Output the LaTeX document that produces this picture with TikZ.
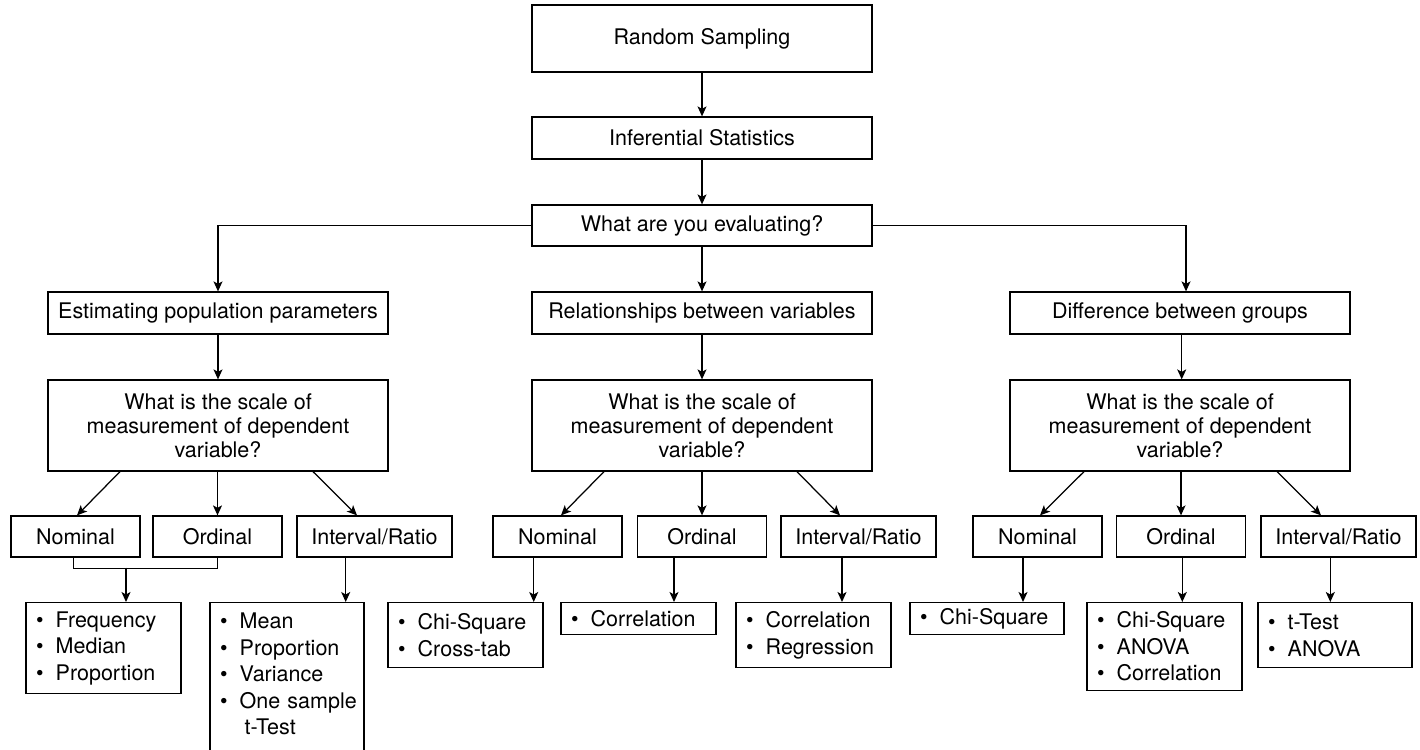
\documentclass[tikz,border=0pt]{standalone}
\usepackage{fontspec}
\setmainfont{TeX Gyre Heros}
\usetikzlibrary{arrows.meta,calc}
\newcommand\itm[1]{\mbox{\makebox[19.7pt][l]{\textbullet}#1}}
\begin{document}
\begin{tikzpicture}[x=1pt,y=-1pt,
  box/.style={draw, line width=1.25pt, inner sep=0pt, align=center, font=\fontsize{21.5}{24}\selectfont},
  lst/.style={draw, line width=1.25pt, inner xsep=10pt, inner ysep=0pt, align=left, anchor=north, font=\fontsize{21.5}{26.5}\selectfont},
  arr/.style={line width=1.25pt, -{Stealth[length=10pt,width=9pt,inset=2.5pt]}},
  ln/.style={line width=1.25pt}]
\fill[white] (0,0) rectangle (1420,749);
\useasboundingbox (0,0) rectangle (1420,749);
% top
\node[box,minimum width=340,minimum height=67] (rs) at (702,38.5) {Random Sampling};
\node[box,minimum width=340,minimum height=42] (is) at (702,138) {Inferential Statistics};
\node[box,minimum width=340,minimum height=41] (ev) at (702,225.5) {What are you evaluating?};
% level 2
\node[box,minimum width=340,minimum height=42] (ep) at (218,313) {Estimating population parameters};
\node[box,minimum width=340,minimum height=42] (rv) at (702,313) {Relationships between variables};
\node[box,minimum width=340,minimum height=42] (dg) at (1180,313) {Difference between groups};
% questions
\node[box,minimum width=340,minimum height=91] (q1) at (218,425.5) {What is the scale of\\measurement of dependent\\variable?};
\node[box,minimum width=340,minimum height=91] (q2) at (702,425.5) {What is the scale of\\measurement of dependent\\variable?};
\node[box,minimum width=340,minimum height=91] (q3) at (1180,425.5) {What is the scale of\\measurement of dependent\\variable?};
% level 4
\node[box,minimum width=129,minimum height=41] (n1) at (75.5,536.5) {Nominal};
\node[box,minimum width=129,minimum height=41] (o1) at (217.5,536.5) {Ordinal};
\node[box,minimum width=155,minimum height=41] (i1) at (374.5,536.5) {Interval/Ratio};
\node[box,minimum width=129,minimum height=41] (n2) at (557.5,536.5) {Nominal};
\node[box,minimum width=129,minimum height=41] (o2) at (702,536.5) {Ordinal};
\node[box,minimum width=155,minimum height=41] (i2) at (858.5,536.5) {Interval/Ratio};
\node[box,minimum width=129,minimum height=41] (n3) at (1037.5,536.5) {Nominal};
\node[box,minimum width=129,minimum height=41] (o3) at (1181,536.5) {Ordinal};
\node[box,minimum width=155,minimum height=41] (i3) at (1338.5,536.5) {Interval/Ratio};
% level 5
\node[lst,text width=135,minimum height=91] (l1) at (103.5,602) {\itm{Frequency}\\\itm{Median}\\\itm{Proportion}};
\node[lst,text width=134,inner ysep=10.5pt] (l2) at (287,602) {\itm{Mean}\\\itm{Proportion}\\\itm{Variance}\\\itm{One sample}\\\mbox{\hspace*{24.7pt}t-Test\rule[-24pt]{0pt}{24pt}}};
\node[lst,text width=135,minimum height=65] (l3) at (465.5,602) {\itm{Chi-Square}\\\itm{Cross-tab}};
\node[lst,text width=135,minimum height=32] (l4) at (638.5,602) {\itm{Correlation}};
\node[lst,text width=135,minimum height=65] (l5) at (813.5,602) {\itm{Correlation}\\\itm{Regression}};
\node[lst,text width=134,minimum height=32] (l6) at (987,602) {\itm{Chi-Square}};
\node[lst,text width=135,minimum height=88] (l7) at (1164.5,602) {\itm{Chi-Square}\\\itm{ANOVA}\\\itm{Correlation}};
\node[lst,text width=134,minimum height=65] (l8) at (1335,602) {\itm{t-Test}\\\itm{ANOVA}};
% connectors top
\draw[arr] (rs.south) -- (is.north);
\draw[arr] (is.south) -- (ev.north);
\draw[arr] (ev.west) -| (ep.north);
\draw[arr] (ev.south) -- (rv.north);
\draw[arr] (ev.east) -| ([xshift=6pt]dg.north);
\draw[arr] (ep.south) -- (q1.north);
\draw[arr] (rv.south) -- (q2.north);
\draw[arr] ([xshift=1.7pt]dg.south) -- ([xshift=1.7pt]q3.north);
% questions to scales
\draw[arr] ([xshift=-98pt]q1.south) -- ([xshift=1.5pt]n1.north);
\draw[arr] (o1.north |- q1.south) -- (o1.north);
\draw[arr] ([xshift=95pt]q1.south) -- ([xshift=-17.5pt]i1.north);
\draw[arr] ([xshift=-98pt]q2.south) -- ([xshift=3.5pt]n2.north);
\draw[arr] (q2.south) -- (o2.north);
\draw[arr] ([xshift=95pt]q2.south) -- ([xshift=-18.5pt]i2.north);
\draw[arr] ([xshift=-96pt]q3.south) -- ([xshift=2.5pt]n3.north);
\draw[arr] (o3.north |- q3.south) -- (o3.north);
\draw[arr] ([xshift=97pt]q3.south) -- ([xshift=-17.5pt]i3.north);
% merge of nominal and ordinal (left)
\draw[ln] ([xshift=-1.8pt]n1.south) -- ++(0,10.7) -| (o1.south);
\coordinate (m1) at (126,567.7);
\draw[arr] (m1) -- (m1 |- l1.north);
% scales to tests
\draw[arr] ([xshift=-28.8pt]i1.south) -- ([xshift=-28.8pt]i1.south |- l2.north);
\draw[arr] ([xshift=-23.8pt]n2.south) -- ([xshift=-23.8pt]n2.south |- l3.north);
\draw[arr] ([xshift=-28pt]o2.south) -- ([xshift=-28pt]o2.south |- l4.north);
\draw[arr] ([xshift=-16.5pt]i2.south) -- ([xshift=-16.5pt]i2.south |- l5.north);
\draw[arr] ([xshift=-14.5pt]n3.south) -- ([xshift=-14.5pt]n3.south |- l6.north);
\draw[arr] ([xshift=1.3pt]o3.south) -- ([xshift=1.3pt]o3.south |- l7.north);
\draw[arr] ([xshift=-8.2pt]i3.south) -- ([xshift=-8.2pt]i3.south |- l8.north);
\end{tikzpicture}
\end{document}
